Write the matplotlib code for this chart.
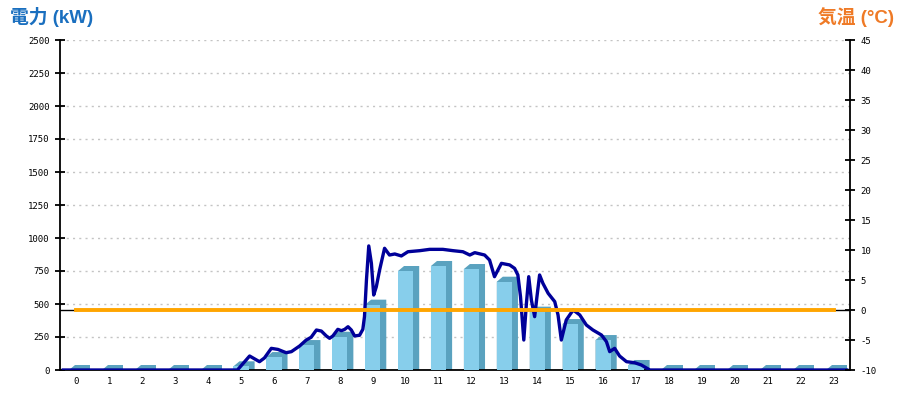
import matplotlib
matplotlib.use("Agg")
import matplotlib.pyplot as plt

plt.rcParams["axes.unicode_minus"] = False

# ── data ─────────────────────────────────────────────────────────────────────
hours = list(range(24))
hour_labels = [str(h) for h in hours]

# hourly energy (bars, left axis)
energy_kw = [0, 0, 0, 0, 0, 28, 98, 189, 252, 495, 750, 788, 765, 669,
             442, 348, 227, 38, 0, 0, 0, 0, 0, 0]

# instantaneous power (line, left axis), time in hours
power_t = [0.1, 5.39, 5.76, 6.06, 6.21, 6.42, 6.62, 6.87, 7.03, 7.28, 7.48,
           7.63, 7.79, 7.94, 8.09, 8.19, 8.29, 8.44, 8.55, 8.65, 8.75, 8.85,
           8.95, 9.10, 9.20, 9.25, 9.31, 9.38, 9.46, 9.53, 9.61, 9.71, 9.86,
           10.01, 10.17, 10.37, 10.57, 10.93, 11.23, 11.63, 11.94, 12.24,
           12.45, 12.60, 12.90, 13.05, 13.20, 13.41, 13.66, 13.81, 13.91,
           13.99, 14.09, 14.17, 14.24, 14.32, 14.42, 14.49, 14.57, 14.67,
           14.83, 15.03, 15.13, 15.23, 15.38, 15.59, 15.79, 15.99, 16.19,
           16.45, 16.60, 16.70, 16.85, 17.00, 17.21, 17.46, 17.66, 17.92,
           23.9]
power_kw = [0, 0, 106, 63, 91, 164, 156, 131, 139, 182, 227,
            248, 303, 295, 258, 240, 258, 308, 298, 308, 328, 303,
            258, 263, 308, 404, 682, 940, 808, 568, 631, 758, 922,
            871, 879, 864, 896, 904, 914, 914, 904, 896,
            871, 889, 871, 833, 707, 808, 796, 770, 720,
            556, 227, 505, 707, 530, 404, 556, 720, 657,
            581, 518, 417, 227, 379, 455, 417, 341, 303,
            265, 215, 139, 164, 106, 63, 55, 38, 0,
            0]

# temperature (right axis)
temp_c = [0] * 24

# ── style ────────────────────────────────────────────────────────────────────
FRONT = "#87ceeb"
SIDE = "#5aa2bf"
NAVY = "#000099"
ORANGE = "#ffa500"
BLUE_TXT = "#1a6fbf"
ORANGE_TXT = "#ef7a26"
TICK_FONT = dict(family="DejaVu Sans Mono", size=6.5)
TITLE_FONT = ["Liberation Sans", "Noto Sans CJK JP", "DejaVu Sans"]

fig = plt.figure(figsize=(9, 4), dpi=100, facecolor="white")
ax = fig.add_axes([60 / 900, 30 / 400, 790 / 900, 330 / 400])
ax2 = ax.twinx()

ax.set_xlim(-0.5, 23.5)
ax.set_ylim(0, 2500)
ax2.set_ylim(-10, 45)

# ── 3D-ish bars ──
bar_w = 0.46
dx = 6 / 32.9          # depth in x, data units (6 px)
dy = 5 * 2500 / 330    # depth in y, data units (5 px)
for h, v in zip(hours, energy_kw):
    x0, x1 = h - bar_w / 2, h + bar_w / 2
    ax.fill([x0, x1 + dx, x1 + dx, x0 + dx, x0],
            [0, 0, v + dy, v + dy, v],
            color=SIDE, lw=0, zorder=2)
ax.bar(hours, energy_kw, width=bar_w, color=FRONT, lw=0, zorder=3)

# ── power line ──
ax.plot([t - 0.5 for t in power_t], power_kw, color=NAVY, lw=2.4,
        zorder=5, solid_joinstyle="round")

# ── temperature ──
ax2.plot(hours, temp_c, color=ORANGE, lw=2.8, zorder=5)
ax2.plot([-0.5, hours[0]], [temp_c[0], temp_c[0]], color="black", lw=1)
ax2.plot([hours[-1], 23.5], [temp_c[-1], temp_c[-1]], color="black", lw=1)

# ── axes ──
ax.set_yticks(range(0, 2501, 250))
ax2.set_yticks(range(-10, 46, 5))
ax.set_xticks(hours)
ax.set_xticklabels(hour_labels, **TICK_FONT)
ax.set_yticklabels([str(v) for v in range(0, 2501, 250)], **TICK_FONT)
ax2.set_yticklabels([str(v) for v in range(-10, 46, 5)], **TICK_FONT)

ax.tick_params(axis="x", length=0, pad=5)
ax.tick_params(axis="y", direction="inout", length=7, width=1.3, pad=4)
ax2.tick_params(axis="y", direction="inout", length=7, width=1.3, pad=4)

ax.grid(axis="y", color="#c4c4c4", lw=1, linestyle=(0, (1.5, 3)))
ax.set_axisbelow(True)

for s in ("top", "right"):
    ax.spines[s].set_visible(False)
for s in ("top", "left", "bottom"):
    ax2.spines[s].set_visible(False)
for sp in (ax.spines["left"], ax.spines["bottom"], ax2.spines["right"]):
    sp.set_linewidth(1.3)
    sp.set_color("black")

# ── titles ──
fig.text(10 / 900, 1 - 17 / 400, "電力 (kW)", color=BLUE_TXT, fontsize=13.5,
         fontweight="bold", family=TITLE_FONT, ha="left", va="center")
fig.text(894 / 900, 1 - 17 / 400, "気温 (°C)", color=ORANGE_TXT, fontsize=13.5,
         fontweight="bold", family=TITLE_FONT, ha="right", va="center")

fig.savefig("out.png", dpi=100, facecolor="white")
